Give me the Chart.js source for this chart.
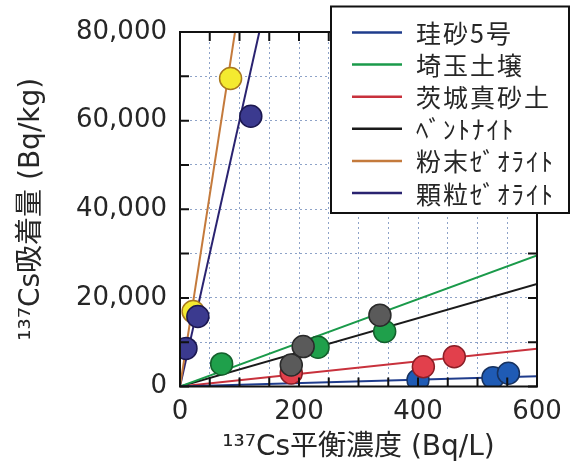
<!DOCTYPE html>
<html>
<head>
<meta charset="utf-8">
<script src="https://cdn.jsdelivr.net/npm/chart.js@4/dist/chart.umd.min.js"></script>
<style>
  html, body { margin: 0; padding: 0; background: #ffffff; }
  #wrap { width: 572px; height: 471px; }
</style>
</head>
<body>
<div id="wrap"><canvas id="cs" width="572" height="471"></canvas></div>
<script>
// Materials and their colours
const materials = ['珪砂5号', '埼玉土壌', '茨城真砂土', 'ﾍﾞﾝﾄﾅｲﾄ', '粉末ｾﾞｵﾗｲﾄ', '顆粒ｾﾞｵﾗｲﾄ'];
const lineColors = ['#1f3c8c', '#1a9a4a', '#c8313c', '#1a1a1a', '#c47a3c', '#2a2370'];
const pointFills = ['#1f5bb5', '#1fa04b', '#e2404c', '#5a5a5a', '#f4ea30', '#3b3a8f'];
const pointEdges = ['#17325f', '#14602c', '#8a1e26', '#2a2a2a', '#a8781e', '#1c1850'];

// Equilibrium concentration (Bq/L) and adsorbed amount (Bq/kg) for each material
const keisaConc      = [400, 526, 552];
const keisaSorb      = [1450, 2000, 3000];
const saitamaConc    = [70, 232, 344];
const saitamaSorb    = [5100, 8850, 12400];
const ibarakiConc    = [187, 409, 461];
const ibarakiSorb    = [3050, 4450, 6700];
const bentoniteConc  = [187, 207, 336];
const bentoniteSorb  = [4850, 9000, 16100];
const powderZeoConc  = [22, 85];
const powderZeoSorb  = [16900, 69500];
const granuleZeoConc = [10, 30, 119];
const granuleZeoSorb = [8600, 15800, 61000];

// Slope of the fitted line through the origin (Bq/kg per Bq/L)
const fitSlopes = [3.9, 49.3, 14.2, 38.6, 865, 600];

// Axis ranges and tick steps
const xMax = 600, xStep = 50, xLabelStep = 200;
const yMax = 80000, yStep = 10000, yLabelStep = 20000;

const concSets = [keisaConc, saitamaConc, ibarakiConc, bentoniteConc, powderZeoConc, granuleZeoConc];
const sorbSets = [keisaSorb, saitamaSorb, ibarakiSorb, bentoniteSorb, powderZeoSorb, granuleZeoSorb];
// draw order of markers (lower is drawn on top)
const markerOrder = [4, 3, 2, 1, 3, 1];

const datasets = [];
materials.forEach((name, i) => {
  datasets.push({
    type: 'line',
    label: name,
    data: [{ x: 0, y: 0 }, { x: xMax, y: fitSlopes[i] * xMax }],
    borderColor: lineColors[i],
    borderWidth: 2,
    pointRadius: 0,
    fill: false,
    order: 10
  });
  datasets.push({
    type: 'scatter',
    label: name,
    data: concSets[i].map((c, k) => ({ x: c, y: sorbSets[i][k] })),
    backgroundColor: pointFills[i],
    borderColor: pointEdges[i],
    borderWidth: 1.5,
    pointRadius: 11,
    order: markerOrder[i]
  });
});

const textColor = '#262626';
const tickFont = { family: "'DejaVu Sans', sans-serif", size: 26 };
const titleFont = { family: "'DejaVu Sans', 'Noto Sans CJK JP', sans-serif", size: 28 };
const gridColor = '#8ea3c8';

// Plot frame with inward tick marks on all four sides
const framePlugin = {
  id: 'frameTicks',
  afterDatasetsDraw(chart) {
    const { ctx, chartArea: a, scales } = chart;
    ctx.save();
    ctx.strokeStyle = '#111';
    ctx.lineWidth = 2;
    ctx.beginPath();
    scales.x.ticks.forEach(t => {
      const px = scales.x.getPixelForValue(t.value);
      ctx.moveTo(px, a.bottom); ctx.lineTo(px, a.bottom - 9);
      ctx.moveTo(px, a.top); ctx.lineTo(px, a.top + 9);
    });
    scales.y.ticks.forEach(t => {
      const py = scales.y.getPixelForValue(t.value);
      ctx.moveTo(a.left, py); ctx.lineTo(a.left + 9, py);
      ctx.moveTo(a.right, py); ctx.lineTo(a.right - 9, py);
    });
    ctx.stroke();
    ctx.strokeRect(a.left, a.top, a.right - a.left, a.bottom - a.top);
    ctx.restore();
  }
};

// Boxed legend listing the fitted lines
const boxLegendPlugin = {
  id: 'boxLegend',
  afterDraw(chart) {
    const { ctx } = chart;
    const bx = 331, by = 6.5, bw = 238, bh = 206.5;
    ctx.save();
    ctx.fillStyle = '#ffffff';
    ctx.fillRect(bx, by, bw, bh);
    ctx.strokeStyle = '#111';
    ctx.lineWidth = 2;
    ctx.strokeRect(bx, by, bw, bh);
    const lines = chart.data.datasets.filter(d => d.type === 'line');
    ctx.font = "25px 'Noto Sans CJK JP', sans-serif";
    if ('letterSpacing' in ctx) ctx.letterSpacing = '2px';
    ctx.textBaseline = 'middle';
    ctx.textAlign = 'left';
    lines.forEach((d, i) => {
      const y = 32.5 + i * 32.1;
      ctx.strokeStyle = d.borderColor;
      ctx.lineWidth = 2.5;
      ctx.beginPath();
      ctx.moveTo(352, y); ctx.lineTo(402, y);
      ctx.stroke();
      ctx.fillStyle = textColor;
      ctx.fillText(d.label, 416, y + 1);
    });
    ctx.restore();
  }
};

new Chart(document.getElementById('cs'), {
  data: { datasets },
  options: {
    responsive: false,
    animation: false,
    devicePixelRatio: 1,
    layout: { padding: { top: 32, right: 35, left: 0, bottom: 3 } },
    plugins: {
      legend: { display: false },
      tooltip: { enabled: false }
    },
    scales: {
      x: {
        type: 'linear',
        min: 0, max: xMax,
        afterFit(s) { s.height = 81.5; },
        grid: { color: gridColor, lineWidth: 1, drawTicks: false },
        border: { display: false, dash: [2, 3] },
        ticks: {
          stepSize: xStep,
          autoSkip: false,
          maxRotation: 0,
          padding: 10,
          color: textColor,
          font: tickFont,
          callback: v => (v % xLabelStep === 0 ? String(v) : '')
        },
        title: {
          display: true,
          text: '¹³⁷Cs平衡濃度 (Bq/L)',
          color: textColor,
          font: titleFont,
          padding: { top: 0, bottom: 3 }
        }
      },
      y: {
        type: 'linear',
        min: 0, max: yMax,
        afterFit(s) { s.width = 180; },
        grid: { color: gridColor, lineWidth: 1, drawTicks: false },
        border: { display: false, dash: [2, 3] },
        ticks: {
          stepSize: yStep,
          autoSkip: false,
          padding: 13,
          color: textColor,
          font: tickFont,
          callback: v => (v % yLabelStep === 0 ? v.toLocaleString('en-US') : '')
        },
        title: {
          display: true,
          text: '¹³⁷Cs吸着量 (Bq/kg)',
          color: textColor,
          font: titleFont,
          padding: { top: 15, bottom: 0 }
        }
      }
    }
  },
  plugins: [framePlugin, boxLegendPlugin]
});
</script>
</body>
</html>
